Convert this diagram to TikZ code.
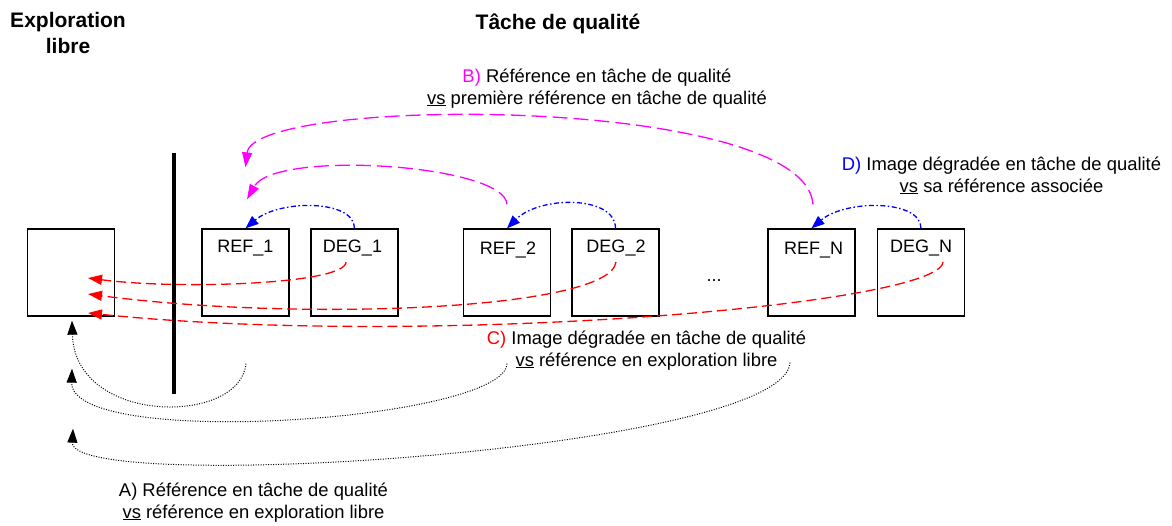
\documentclass[tikz,border=0pt]{standalone}
\usepackage{fontspec}
\setmainfont{Liberation Sans}
\usetikzlibrary{arrows.meta,calc}
\definecolor{cred}{RGB}{255,0,0}
\definecolor{cmag}{RGB}{255,0,255}
\definecolor{cblue}{RGB}{0,0,255}
\begin{document}
\begin{tikzpicture}[x=1pt,y=-1pt,
  box/.style={draw,line width=1.3pt,minimum width=87pt,minimum height=87pt,inner sep=0pt},
  boxtxt/.style={anchor=base,font=\fontsize{18}{21}\selectfont,inner sep=0pt},
  lab/.style={anchor=base,align=center,font=\fontsize{18.4}{22}\selectfont,inner sep=0pt},
  headtxt/.style={anchor=base,align=center,font=\fontsize{21}{26}\selectfont\bfseries,inner sep=0pt},
  redarr/.style={draw=cred,line width=1.3pt,dash pattern=on 10pt off 5pt,-{Triangle[length=14pt,width=10pt]}},
  magarr/.style={draw=cmag,line width=1.3pt,dash pattern=on 15pt off 6pt,-{Triangle[length=15pt,width=10pt]}},
  bluearr/.style={draw=cblue,line width=1.3pt,dash pattern=on 5pt off 2.5pt on 1.5pt off 2.5pt,-{Triangle[length=13pt,width=10pt]}},
  blackarr/.style={draw=black,line width=1pt,dash pattern=on 1pt off 1.5pt,-{Triangle[length=14pt,width=10pt]}},
  divider/.style={draw=black,line width=3.2pt}
]
\useasboundingbox (0,0) rectangle (1172,525);

% boxes
\node[box] (free) at (71,272.5) {};
\node[box] (ref1) at (245.5,272.5) {};
\node[box] (deg1) at (354.5,272.5) {};
\node[box] (ref2) at (507,272.5) {};
\node[box] (deg2) at (615.5,272.5) {};
\node[box] (refN) at (811.5,272.5) {};
\node[box] (degN) at (921,272.5) {};

\node[boxtxt] (tref1) at ($(ref1.north)+(0,24)$) {REF\_1};
\node[boxtxt] (tdeg1) at ($(deg1.north)+(-2,24)$) {DEG\_1};
\node[boxtxt] (tref2) at ($(ref2.north)+(1,26)$) {REF\_2};
\node[boxtxt] (tdeg2) at ($(deg2.north)+(0.5,24)$) {DEG\_2};
\node[boxtxt] (trefN) at ($(refN.north)+(2,26)$) {REF\_N};
\node[boxtxt] (tdegN) at ($(degN.north)+(0,24)$) {DEG\_N};
\node[boxtxt] (dots) at (714,281) {...};

% divider
\coordinate (dtop) at (174,153);
\coordinate (dbot) at (174,394);
\draw[divider] (dtop) -- (dbot);

% headings (base anchor = last line's baseline)
\node[headtxt] (hfree) at (68,53) {Exploration\\libre};
\node[headtxt] (hqual) at (558,29) {Tâche de qualité};

% labels
\node[lab] (lb) at (597,104) {\textcolor{cmag}{B)} Référence en tâche de qualité\\\underline{vs} première référence en tâche de qualité};
\node[lab] (ld) at (1001.5,192) {\textcolor{cblue}{D)} Image dégradée en tâche de qualité\\\underline{vs} sa référence associée};
\node[lab] (lc) at (646.5,366) {\textcolor{cred}{C)} Image dégradée en tâche de qualité\\\underline{vs} référence en exploration libre};
\node[lab] (la) at (253.5,518) {A) Référence en tâche de qualité\\\underline{vs} référence en exploration libre};

% D: blue
\draw[bluearr] (deg1.north) .. controls ($(deg1.north)+(0,-29)$) and ($(ref1.north)+(34,-29)$) .. (ref1.north);
\draw[bluearr] (deg2.north) .. controls ($(deg2.north)+(0,-33)$) and ($(ref2.north)+(33,-33)$) .. (ref2.north);
\draw[bluearr] (degN.north) .. controls ($(degN.north)+(0,-29)$) and ($(refN.north)+(34,-29)$) .. (refN.north);

% B: magenta
\coordinate (m1s) at ($(ref2.north)+(0,-24)$);
\coordinate (m1e) at ($(ref1.north)+(1.5,-29)$);
\coordinate (m2s) at ($(refN.north)+(1.5,-24)$);
\coordinate (m2e) at ($(ref1.north)+(0,-61)$);
\draw[magarr] (m1s) .. controls ($(m1s)+(-2,-40)$) and ($(m1e)+(28,-50)$) .. (m1e);
\draw[magarr] (m2s) .. controls ($(m2s)+(-8,-110)$) and ($(m2e)+(8,-72)$) .. (m2e);

% C: red
\coordinate (r1s) at ($(deg1.center)+(-8.5,-10.5)$);
\coordinate (r1e) at ($(free.center)+(17,5.5)$);
\coordinate (r2s) at ($(deg2.center)+(0.5,-10.5)$);
\coordinate (r2e) at ($(free.center)+(17,21.5)$);
\coordinate (r3s) at ($(degN.center)+(22,-10.5)$);
\coordinate (r3e) at ($(free.center)+(17,40.5)$);
\draw[redarr] (r1s) .. controls ($(r1s)+(0,22)$) and ($(r1e)+(92,12)$) .. (r1e);
\draw[redarr] (r2s) .. controls ($(r2s)+(-6,48)$) and ($(r2e)+(212,28)$) .. (r2e);
\draw[redarr] (r3s) .. controls ($(r3s)+(-3,43)$) and ($(r3e)+(340,35)$) .. (r3e);

% A: black dotted
\coordinate (a1s) at ($(ref1.south)+(0.5,47)$);
\coordinate (a1e) at ($(free.south)+(1,4)$);
\coordinate (a2s) at ($(ref2.south)+(0,47)$);
\coordinate (a2e) at ($(free.south)+(1,52)$);
\coordinate (a3s) at ($(refN.south)+(-21.5,46)$);
\coordinate (a3e) at ($(free.south)+(2,112)$);
\draw[blackarr] (a1s) .. controls ($(a1s)+(-6,62)$) and ($(a1e)+(3,105)$) .. (a1e);
\draw[blackarr] (a2s) .. controls ($(a2s)+(-2,57)$) and ($(a2e)+(-2,82)$) .. (a2e);
\draw[blackarr] (a3s) .. controls ($(a3s)+(-5,88)$) and ($(a3e)+(-3,67)$) .. (a3e);
\end{tikzpicture}
\end{document}
